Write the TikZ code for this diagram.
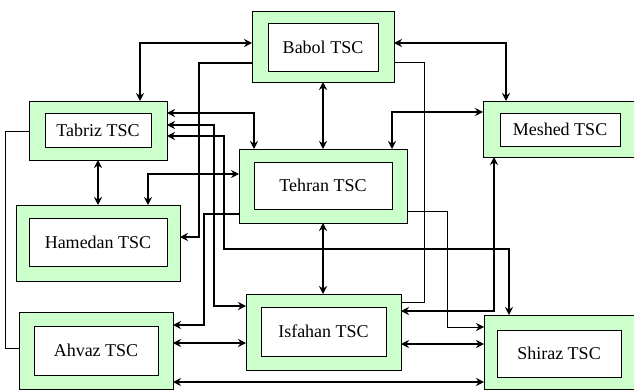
\documentclass[tikz,border=0pt]{standalone}
\usepackage{fontspec}
\setmainfont{Liberation Serif}
\usetikzlibrary{arrows.meta}
\definecolor{tscgreen}{RGB}{204,255,204}

\begin{document}
\begin{tikzpicture}
[tsc/.style={draw,fill=tscgreen,line width=0.8pt,inner sep=0pt,outer sep=0pt}
,lbl/.style={draw,fill=white,line width=0.8pt,inner sep=0pt,font=\fontsize{18}{20}\selectfont}
,link/.style={draw=black,line width=1.3pt,arrows={Stealth[length=8pt,width=8pt]-Stealth[length=8pt,width=8pt]}}
,feed/.style={draw=black,line width=1.3pt,arrows={-Stealth[length=8pt,width=8pt]}}
,wire/.style={draw=black,line width=0.8pt}
,x=1pt,y=-1pt]
\useasboundingbox (0,0) rectangle (634,390);
% centres
\node[tsc,minimum width=142pt,minimum height=71pt] (babol) at (323,46.5) {};
\node[lbl,minimum width=110pt,minimum height=48pt] (babol-in) at (323,47) {Babol TSC};
\node[tsc,minimum width=151pt,minimum height=56pt] (meshed) at (558.5,129) {};
\node[lbl,minimum width=120pt,minimum height=33pt] (meshed-in) at (560,129.5) {Meshed TSC};
\node[tsc,minimum width=138pt,minimum height=59pt] (tabriz) at (98,130.5) {};
\node[lbl,minimum width=106pt,minimum height=34pt] (tabriz-in) at (98,130) {Tabriz TSC};
\node[tsc,minimum width=168pt,minimum height=74pt] (tehran) at (323,186) {};
\node[lbl,minimum width=138pt,minimum height=47pt] (tehran-in) at (323,185.5) {Tehran TSC};
\node[tsc,minimum width=164pt,minimum height=76pt] (hamedan) at (98,243) {};
\node[lbl,minimum width=138pt,minimum height=48pt] (hamedan-in) at (98,242) {Hamedan TSC};
\node[tsc,minimum width=154pt,minimum height=77pt] (ahvaz) at (96,350.5) {};
\node[lbl,minimum width=124pt,minimum height=49pt] (ahvaz-in) at (96,350.5) {Ahvaz TSC};
\node[tsc,minimum width=155pt,minimum height=76pt] (isfahan) at (323.5,332) {};
\node[lbl,minimum width=125pt,minimum height=49pt] (isfahan-in) at (323.5,331.5) {Isfahan TSC};
\node[tsc,minimum width=150pt,minimum height=74pt] (shiraz) at (559,352) {};
\node[lbl,minimum width=124pt,minimum height=47pt] (shiraz-in) at (559,353.5) {Shiraz TSC};
% Babol
\draw[link] ([yshift=3.5pt]babol.west) -| ([xshift=42pt]tabriz.north);
\draw[link] ([yshift=3.5pt]babol.east) -| ([xshift=-52.5pt]meshed.north);
\draw[link] (babol.south) -- (tehran.north);
\draw[feed] ([yshift=-16.5pt]babol.west) -| (199,237) -- ([yshift=6pt]hamedan.east);
\draw[wire] ([yshift=-15.5pt]babol.east) -| (424,302) -- ([yshift=30pt]isfahan.east);
% Tabriz
\draw[link] ([yshift=17.5pt]tabriz.east) -| ([xshift=-69pt]tehran.north);
\draw[link] ([yshift=5.5pt]tabriz.east) -| (214,306) -- ([yshift=26pt]isfahan.west);
\draw[link] ([yshift=-5.5pt]tabriz.east) -| (224,249) -| ([xshift=-50pt]shiraz.north);
\draw[link] (tabriz.south) -- (hamedan.north);
\draw[wire] ([yshift=-0.5pt]tabriz.west) -| (5,348) -- ([yshift=2.5pt]ahvaz.west);
% Tehran
\draw[link] ([yshift=12pt]tehran.west) -| ([xshift=50pt]hamedan.north);
\draw[feed] ([yshift=-28pt]tehran.west) -| (204,325) -- ([yshift=25.5pt]ahvaz.east);
\draw[link] (tehran.south) -- (tehran.south |- isfahan.north);
\draw[feed,line width=1pt] ([yshift=-25pt]tehran.east) -| (447,327) -- ([yshift=25pt]shiraz.west);
\draw[link] ([xshift=69pt]tehran.north) |- ([yshift=17pt]meshed.west);
% Isfahan, Ahvaz
\draw[link] ([yshift=21pt]isfahan.east) -| ([xshift=-64.5pt]meshed.south);
\draw[link] ([yshift=7.5pt]ahvaz.east) -- ([yshift=-11pt]isfahan.west);
\draw[link] ([yshift=-31.5pt]ahvaz.east) -- ([yshift=-30pt]shiraz.west);
\draw[link] ([yshift=-12pt]isfahan.east) -- ([yshift=8pt]shiraz.west);
\end{tikzpicture}
\end{document}
